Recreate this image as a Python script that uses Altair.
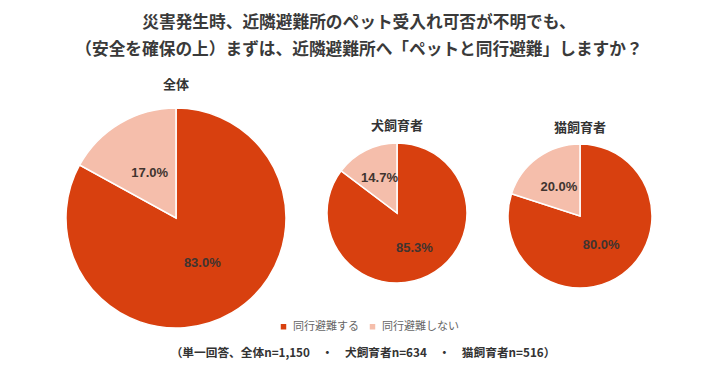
import altair as alt
import pandas as pd

groups = ["全体", "犬飼育者", "猫飼育者"]
yes_vals = [83.0, 85.3, 80.0]
no_vals = [17.0, 14.7, 20.0]
categories = ["同行避難する", "同行避難しない"]
colors = ["#D8400F", "#F5BEAB"]
diameters = [220, 140, 144]
panel_heights = [220, 210, 216]
title_dy = [2, 40, 42]
label_r = [0.235, 0.28, 0.25]

rows = []
for g, y, n in zip(groups, yes_vals, no_vals):
    rows.append({"group": g, "cat": categories[0], "value": y, "ord": 0, "label": f"{y:.1f}%"})
    rows.append({"group": g, "cat": categories[1], "value": n, "ord": 1, "label": f"{n:.1f}%"})
df = pd.DataFrame(rows)

FONT = "Noto Sans CJK JP"
NUMFONT = "Liberation Sans"

panels = []
for g, d, h, dy, lr in zip(groups, diameters, panel_heights, title_dy, label_r):
    base = alt.Chart(df).transform_filter(alt.datum.group == g).encode(
        theta=alt.Theta("value:Q", stack=True),
        order=alt.Order("ord:Q"),
    )
    arc = base.mark_arc(stroke="white", strokeWidth=1.5, outerRadius=d / 2).encode(
        color=alt.Color(
            "cat:N",
            scale=alt.Scale(domain=categories, range=colors),
            legend=alt.Legend(title=None, orient="none", direction="horizontal",
                              legendX=212, legendY=213, symbolType="square",
                              symbolSize=30, labelFontSize=11, labelColor="#666666",
                              labelFont=FONT, columnPadding=8, symbolStrokeWidth=0),
        ),
    )
    txt = base.mark_text(radius=d * lr, font=NUMFONT, fontSize=13, fontWeight="bold").encode(
        text="label:N", detail="cat:N", color=alt.value("#40342f"))
    panel = alt.layer(arc, txt).properties(
        width=d, height=h,
        title=alt.TitleParams(g, fontSize=13, fontWeight="bold", color="#333333",
                              font=FONT, offset=15, dy=dy),
    )
    panels.append(panel)

pies = alt.hconcat(*panels, spacing=35).resolve_scale(color="shared")

footnote_text = ["（単一回答、全体n=1,150　・　犬飼育者n=634　・　猫飼育者n=516）"]
foot = alt.Chart(pd.DataFrame({"t": footnote_text})).mark_text(
    font=FONT, fontSize=11.7, fontWeight="bold", color="#333333", align="center", baseline="middle"
).encode(text="t:N", x=alt.value(297), y=alt.value(6)).properties(width=588, height=12)

title_lines = ["災害発生時、近隣避難所のペット受入れ可否が不明でも、",
               "（安全を確保の上）まずは、近隣避難所へ「ペットと同行避難」しますか？"]

chart = alt.vconcat(pies, foot, spacing=16).properties(
    title=alt.TitleParams(title_lines, fontSize=16.7, fontWeight="bold", color="#3a3a3a",
                          font=FONT, lineHeight=27, anchor="middle", offset=20),
    padding={"left": 55, "top": 7, "right": 5, "bottom": 5},
    background="white",
).configure_view(strokeWidth=0, stroke=None)

chart.save("out.html", embed_options={"renderer": "svg", "actions": False})
